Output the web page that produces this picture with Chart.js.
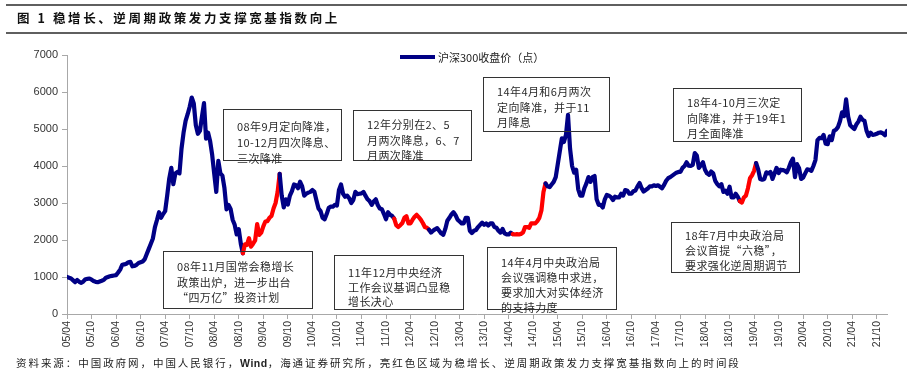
<!DOCTYPE html>
<html><head><meta charset="utf-8">
<script src="https://cdn.jsdelivr.net/npm/chart.js@4/dist/chart.umd.min.js"></script>
<style>
html,body{margin:0;padding:0;background:#fff;}
#wrap{position:relative;width:915px;height:378px;overflow:hidden;font-family:"Liberation Sans","Noto Sans CJK SC",sans-serif;}
#c{position:absolute;left:0;top:0;}
.rule{position:absolute;left:6px;width:901px;height:2px;background:#5f5f5f;}
.title{position:absolute;left:17px;top:9px;font-size:12.5px;font-weight:bold;letter-spacing:2.6px;color:#111;font-family:"Noto Sans CJK SC",sans-serif;white-space:nowrap;line-height:18px;}
.foot{position:absolute;left:16px;top:355px;font-size:10.5px;letter-spacing:1.95px;color:#222;font-family:"Noto Sans CJK SC",sans-serif;white-space:nowrap;line-height:15px;}
.foot b{font-family:"Liberation Sans",sans-serif;font-weight:bold;letter-spacing:0.5px;}
.note{position:absolute;border:1.3px solid #333;box-sizing:border-box;padding:6px 0 0 13px;font-size:11px;line-height:15.5px;letter-spacing:.4px;color:#2a2a2a;font-family:"Noto Sans CJK SC",sans-serif;white-space:nowrap;background:transparent;z-index:2;}
.lg-line{position:absolute;left:400px;top:55px;width:35px;height:4px;background:#000085;}
.lg-text{position:absolute;left:438px;top:49px;font-size:11px;color:#222;font-family:"Noto Sans CJK SC",sans-serif;white-space:nowrap;line-height:16px;}
</style>
</head><body>
<div id="wrap">
<canvas id="c" width="915" height="378"></canvas>
<div class="rule" style="top:4px"></div>
<div class="title">图 1 稳增长、逆周期政策发力支撑宽基指数向上</div>
<div class="rule" style="top:32px"></div>
<div class="lg-line"></div>
<div class="lg-text">沪深300收盘价（点）</div>
<div class="note" style="left:223px;top:109px;width:119px;height:52px;padding-top:8px;line-height:16px">08年9月定向降准，<br>10-12月四次降息、<br>三次降准</div>
<div class="note" style="left:353px;top:110px;width:119px;height:51px;">12年分别在2、5<br>月两次降息，6、7<br>月两次降准</div>
<div class="note" style="left:483px;top:77px;width:127px;height:55px;">14年4月和6月两次<br>定向降准，并于11<br>月降息</div>
<div class="note" style="left:673px;top:88px;width:129px;height:54px;">18年4-10月三次定<br>向降准，并于19年1<br>月全面降准</div>
<div class="note" style="left:163px;top:251px;width:150px;height:58px;padding-top:7px">08年11月国常会稳增长<br>政策出炉，进一步出台<br>“四万亿”投资计划</div>
<div class="note" style="left:334px;top:255px;width:130px;height:55px;padding-top:9px;line-height:14.5px">11年12月中央经济<br>工作会议基调凸显稳<br>增长决心</div>
<div class="note" style="left:487px;top:247px;width:130px;height:63px;padding-top:7px;line-height:15px">14年4月中央政治局<br>会议强调稳中求进，<br>要求加大对实体经济<br>的支持力度</div>
<div class="note" style="left:671px;top:222px;width:129px;height:51px;padding-top:5px;line-height:15px">18年7月中央政治局<br>会议首提“六稳”，<br>要求强化逆周期调节</div>
<div class="foot">资料来源：中国政府网，中国人民银行，<b>Wind</b>，海通证券研究所，亮红色区域为稳增长、逆周期政策发力支撑宽基指数向上的时间段</div>
</div>
<script>
// First observation: 2005/04; two readings per month (start of month, mid-month)
const startYear = 2005, startMonth = 4;
// CSI 300 close (points), semi-monthly readings
const closes2005 = [1000,980, 960,910, 860,920, 870,840, 880,940, 950,960, 930,890, 870,860, 880,900];
const closes2006 = [923,980, 1000,1020, 1030,1040, 1050,1120, 1200,1330, 1340,1360, 1400,1410, 1290,1300, 1330,1380, 1400,1420, 1480,1620, 1760,1900];
const closes2007 = [2041,2350, 2540,2750, 2600,2700, 2780,3200, 3660,3950, 3510,3800, 3840,3800, 4470,4900, 5220,5400, 5600,5850, 5690,5100, 4870,4950];
const closes2008 = [5340,5700, 4740,4900, 4670,4300, 3790,3300, 4140,3800, 3740,3400, 2830,2950, 2840,2550, 2410,2150, 2290,1900, 1640,1880, 1870,2050];
const closes2009 = [1820,1900, 1990,2430, 2140,2200, 2370,2500, 2510,2600, 2650,2850, 3000,3300, 3790,3200, 2880,3100, 2960,3200, 3320,3500, 3480,3400];
const closes2010 = [3575,3450, 3200,3250, 3280,3300, 3350,3300, 3070,2850, 2780,2600, 2560,2700, 2870,2900, 2900,2950, 2930,3350, 3500,3250, 3170,3200];
const closes2011 = [3130,3000, 3080,3300, 3240,3250, 3260,3300, 3190,3100, 3050,2950, 3040,3100, 2940,2850, 2830,2700, 2560,2750, 2680,2650, 2580,2400];
const closes2012 = [2350,2400, 2460,2600, 2640,2450, 2450,2550, 2630,2680, 2620,2550, 2460,2350, 2330,2280, 2200,2250, 2290,2320, 2250,2180, 2140,2300];
const closes2013 = [2520,2600, 2690,2750, 2670,2550, 2500,2450, 2450,2600, 2600,2250, 2190,2250, 2270,2350, 2410,2470, 2410,2450, 2390,2450, 2450,2350];
const closes2014 = [2330,2250, 2200,2300, 2180,2150, 2150,2200, 2160,2150, 2160,2150, 2165,2200, 2350,2350, 2330,2450, 2450,2450, 2510,2600, 2800,3300];
const closes2015 = [3530,3450, 3430,3500, 3570,3700, 4050,4400, 4750,4650, 4840,5380, 4470,4000, 3820,3900, 3370,3200, 3200,3400, 3530,3700, 3570,3700];
const closes2016 = [3730,3100, 2950,2950, 2880,3100, 3220,3200, 3160,3080, 3170,3150, 3150,3250, 3200,3350, 3330,3250, 3250,3320, 3340,3450, 3540,3400];
const closes2017 = [3310,3350, 3390,3450, 3450,3480, 3460,3480, 3440,3400, 3490,3600, 3670,3700, 3740,3780, 3820,3840, 3840,3950, 4000,4100, 4010,4000];
const closes2018 = [4030,4350, 4280,3950, 4020,4100, 3900,3800, 3760,3850, 3800,3600, 3510,3450, 3510,3300, 3330,3250, 3440,3150, 3150,3250, 3170,3050];
const closes2019 = [3010,3150, 3200,3400, 3670,3750, 3870,4080, 3910,3650, 3630,3650, 3830,3800, 3840,3650, 3800,3950, 3810,3900, 3890,3870, 3830,3950];
const closes2020 = [4100,4200, 3700,4050, 3940,3650, 3690,3800, 3910,3900, 3870,4000, 4160,4700, 4760,4750, 4840,4600, 4590,4800, 4700,4950, 4980,5050];
const closes2021 = [5210,5450, 5350,5800, 5340,5100, 5050,5000, 5120,5200, 5330,5250, 5220,4950, 4810,4900, 4840,4850, 4870,4900, 4910,4880, 4830,4950];
// x-axis tick labels, every 6 months from 05/04
const tickLabels = ['05/04','05/10','06/04','06/10','07/04','07/10','08/04','08/10','09/04','09/10','10/04','10/10','11/04','11/10','12/04','12/10','13/04','13/10','14/04','14/10','15/04','15/10','16/04','16/10','17/04','17/10','18/04','18/10','19/04','19/10','20/04','20/10','21/04','21/10'];
const yTicks = [0,1000,2000,3000,4000,5000,6000,7000];
// highlighted (red) periods, in months since 2005/04
const redStarts = [43, 80, 109, 164.5];
const redEnds   = [52, 88.5, 117, 168.5];

const closes = [].concat(closes2005,closes2006,closes2007,closes2008,closes2009,closes2010,closes2011,closes2012,closes2013,closes2014,closes2015,closes2016,closes2017,closes2018,closes2019,closes2020,closes2021);
const points = closes.map((v,i)=>({x:i/2, y:v}));
const NAVY = '#000085', RED = '#ff0000', AXIS = '#a8a8a8';
function isRed(a,b){ for(let k=0;k<redStarts.length;k++){ if(a>=redStarts[k]-1e-9 && b<=redEnds[k]+1e-9) return true;} return false; }

new Chart(document.getElementById('c'), {
  type:'line',
  data:{datasets:[{label:'沪深300收盘价（点）', data:points, borderColor:NAVY, borderWidth:4.2, pointRadius:0, tension:0,
    borderJoinStyle:'round', borderCapStyle:'round',
    segment:{borderColor: c => isRed(c.p0.parsed.x, c.p1.parsed.x) ? RED : NAVY}}]},
  options:{
    responsive:false, animation:false, devicePixelRatio:1,
    layout:{padding:{left:0, top:55, right:28, bottom:0}},
    plugins:{legend:{display:false}, tooltip:{enabled:false}},
    scales:{
      x:{type:'linear', min:0, max:200.5,
        afterBuildTicks: s => { s.ticks = tickLabels.map((l,k)=>({value:k*6})); },
        afterFit: s => { s.height = 64; },
        grid:{display:true, drawOnChartArea:false, drawTicks:true, tickLength:5, color:AXIS},
        border:{display:true, color:AXIS, width:1},
        ticks:{autoSkip:false, minRotation:90, maxRotation:90, padding:2, color:'#333',
          font:{size:10.5, family:'Liberation Sans'}, callback:(v,i)=>tickLabels[i]}
      },
      y:{min:0, max:7000,
        afterBuildTicks: s => { s.ticks = yTicks.map(v=>({value:v})); },
        afterFit: s => { s.width = 67; },
        grid:{display:true, drawOnChartArea:false, drawTicks:true, tickLength:5, color:AXIS},
        border:{display:true, color:AXIS, width:1},
        ticks:{padding:4, color:'#333', font:{size:11, family:'Liberation Sans'}, callback:v=>String(v)}
      }
    }
  }
});
</script>
</body></html>
